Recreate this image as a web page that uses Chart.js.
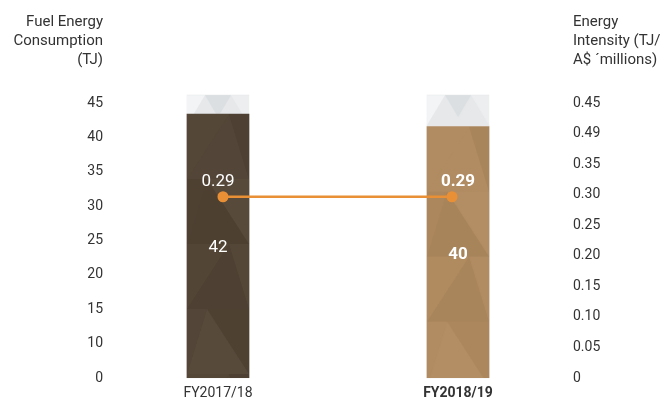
<!DOCTYPE html>
<html>
<head>
<meta charset="utf-8">
<script src="https://cdn.jsdelivr.net/npm/chart.js@4.4.1/dist/chart.umd.min.js"></script>
<style>
  html, body { margin: 0; padding: 0; background: #fff; }
  #wrap { width: 664px; height: 401px; position: relative; }
</style>
</head>
<body>
<div id="wrap"><canvas id="energy"></canvas></div>
<script>
const years = ['FY2017/18', 'FY2018/19'];
const consumption = [42, 40];        // TJ
const intensity = [0.29, 0.29];      // TJ / A$ millions
const trackTop = [45, 45];           // light cap behind each bar
const leftTicks = ['45', '40', '35', '30', '25', '20', '15', '10', '0'];
const rightTicks = ['0.45', '0.49', '0.35', '0.30', '0.25', '0.20', '0.15', '0.10', '0.05', '0'];
const leftTitle = ['Fuel Energy', 'Consumption', '(TJ)'];
const rightTitle = ['Energy', 'Intensity (TJ/', 'A$ \u00b4millions)'];

const FONT = 'Roboto';
const TEXT = '#333';
const ORANGE = '#e98f35';
const BAR_W = 62;

// faceted triangle texture for the bars
function facetTile(base, shades) {
  const tile = document.createElement('canvas');
  tile.width = BAR_W; tile.height = 260;
  const g = tile.getContext('2d');
  g.fillStyle = base;
  g.fillRect(0, 0, tile.width, tile.height);
  const tri = (pts, col) => {
    g.fillStyle = col;
    g.beginPath();
    g.moveTo(pts[0], pts[1]); g.lineTo(pts[2], pts[3]); g.lineTo(pts[4], pts[5]);
    g.closePath(); g.fill();
  };
  let k = 0;
  for (let r = 0; r < 4; r++) {
    const y0 = r * 65, y1 = y0 + 65, xm = r % 2 ? 20 : 42;
    tri([0, y0, xm, y0, 0, y1], shades[k++ % shades.length]);
    tri([xm, y0, BAR_W, y0, BAR_W, y1], shades[k++ % shades.length]);
    tri([xm, y0, 0, y1, BAR_W, y1], shades[k++ % shades.length]);
  }
  return tile;
}

// light cap: white sides with a grey V in the middle
function capTile() {
  const tile = document.createElement('canvas');
  tile.width = BAR_W; tile.height = 300;
  const g = tile.getContext('2d');
  g.fillStyle = '#e6e8ea';
  g.fillRect(0, 0, BAR_W, 300);
  g.fillStyle = '#f3f4f5';
  g.beginPath(); g.moveTo(0, 0); g.lineTo(18, 0); g.lineTo(0, 30); g.closePath(); g.fill();
  g.fillStyle = '#eceef0';
  g.beginPath(); g.moveTo(BAR_W, 0); g.lineTo(44, 0); g.lineTo(BAR_W, 30); g.closePath(); g.fill();
  g.fillStyle = '#dcdfe2';
  g.beginPath(); g.moveTo(18, 0); g.lineTo(44, 0); g.lineTo(31, 22); g.closePath(); g.fill();
  return tile;
}

const shades = ['rgba(255,255,255,0.025)', 'rgba(0,0,0,0.035)', 'rgba(255,255,255,0.015)',
                'rgba(0,0,0,0.02)', 'rgba(255,255,255,0.04)', 'rgba(0,0,0,0.045)',
                'rgba(255,255,255,0.01)'];
const barTiles = [facetTile('#514334', shades), facetTile('#b08a5f', shades)];
const capTiles = [capTile(), capTile()];

function patterned(tiles, fallback, scaleId) {
  return ctx => {
    const chart = ctx.chart;
    if (ctx.type !== 'data' || !chart.chartArea) return fallback;
    const p = chart.ctx.createPattern(tiles[ctx.dataIndex], 'repeat');
    const x = chart.scales.x.getPixelForValue(ctx.dataIndex) - BAR_W / 2;
    const y = chart.scales[scaleId].getPixelForValue(ctx.raw.y);
    p.setTransform(new DOMMatrix([1, 0, 0, 1, x, y]));
    return p;
  };
}

const labelsPlugin = {
  id: 'labels',
  afterDatasetsDraw(chart) {
    const c = chart.ctx;
    const dots = chart.getDatasetMeta(0).data;
    const bars = chart.getDatasetMeta(1).data;
    c.save();
    c.fillStyle = '#fff';
    c.textAlign = 'center';
    c.textBaseline = 'middle';
    bars.forEach((bar, i) => {
      c.font = (i === 1 ? 'bold ' : '') + '17px ' + FONT;
      c.fillText(String(consumption[i]), bar.x, (bar.y + bar.base) / 2 + 2);
      c.fillText(intensity[i].toFixed(2), bar.x, dots[i].y - 15);
    });
    c.restore();
  },
  afterDraw(chart) {
    const c = chart.ctx;
    c.save();
    c.fillStyle = TEXT;
    c.font = '15px ' + FONT;
    c.textBaseline = 'middle';
    c.textAlign = 'right';
    leftTitle.forEach((t, i) => c.fillText(t, chart.scales.yl.right - 5, 22 + i * 19));
    c.textAlign = 'left';
    rightTitle.forEach((t, i) => c.fillText(t, chart.scales.yr.left + 5, 22 + i * 19));
    c.restore();
  }
};

const noPad = s => { s.paddingLeft = 0; s.paddingRight = 0; s.paddingTop = 0; s.paddingBottom = 0; };

new Chart(document.getElementById('energy'), {
  type: 'bar',
  data: {
    datasets: [
      {
        type: 'line',
        label: 'Energy intensity',
        data: intensity.map((v, i) => ({ x: i, y: v })),
        xAxisID: 'xl',
        yAxisID: 'yLine',
        borderColor: ORANGE,
        backgroundColor: ORANGE,
        borderWidth: 2.5,
        pointRadius: 5.5,
        pointBorderWidth: 0,
        order: 0
      },
      {
        label: 'Fuel energy consumption',
        data: consumption.map((v, i) => ({ x: i, y: v })),
        yAxisID: 'yBar',
        backgroundColor: patterned(barTiles, '#514334', 'yBar'),
        barThickness: BAR_W,
        grouped: false,
        order: 1
      },
      {
        label: 'Cap',
        data: trackTop.map((v, i) => ({ x: i, y: v })),
        yAxisID: 'yBar',
        backgroundColor: patterned(capTiles, '#e6e8ea', 'yBar'),
        barThickness: BAR_W,
        grouped: false,
        clip: false,
        order: 2
      }
    ]
  },
  options: {
    responsive: true,
    maintainAspectRatio: false,
    animation: false,
    layout: { padding: { top: 103, left: 63, right: 0, bottom: 0 } },
    plugins: { legend: { display: false }, tooltip: { enabled: false } },
    scales: {
      x: {
        type: 'linear',
        offset: false,
        min: -0.4583,
        max: 1.4583,
        grid: { display: false, drawTicks: false },
        border: { display: false },
        afterBuildTicks: s => { s.ticks = years.map((_, i) => ({ value: i })); },
        afterFit: s => { noPad(s); s.height = 23; },
        ticks: {
          padding: 7,
          maxRotation: 0,
          color: TEXT,
          callback: v => years[v],
          font: ctx => ({ family: FONT, size: 14, weight: ctx.tick && ctx.tick.value === 1 ? 'bold' : 'normal' })
        }
      },
      xl: { type: 'linear', display: false, offset: false, min: -0.502, max: 1.5066 },
      yBar: { type: 'linear', display: false, min: 0, max: 43.75 },
      yLine: { type: 'linear', display: false, min: 0, max: 0.44 },
      yl: {
        type: 'category',
        position: 'left',
        labels: leftTicks,
        offset: false,
        grid: { display: false, drawTicks: false },
        border: { display: false },
        afterFit: s => { noPad(s); s.width = 45; },
        ticks: { padding: 5, color: TEXT, font: { family: FONT, size: 14 } }
      },
      yr: {
        type: 'category',
        position: 'right',
        labels: rightTicks,
        offset: false,
        grid: { display: false, drawTicks: false },
        border: { display: false },
        afterFit: s => { noPad(s); s.width = 96; },
        ticks: { padding: 5, color: TEXT, font: { family: FONT, size: 14 } }
      }
    }
  },
  plugins: [labelsPlugin]
});
</script>
</body>
</html>
